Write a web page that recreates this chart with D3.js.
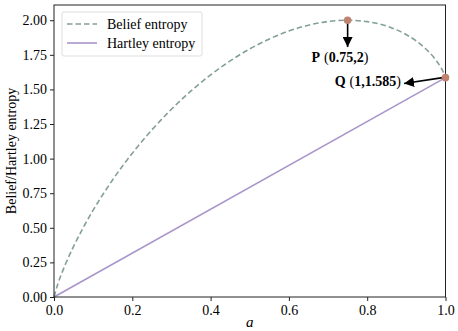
<!DOCTYPE html>
<html><head><meta charset="utf-8">
<script src="https://cdn.jsdelivr.net/npm/d3@7"></script>
<style>body{margin:0;background:#fff}svg{display:block}</style>
</head><body>
<svg id="c" width="458" height="331"></svg>
<script>
// Data
const aValues      = [0, 0.01, 0.02, 0.03, 0.05, 0.075, 0.1, 0.15, 0.2, 0.25, 0.3, 0.35, 0.4, 0.45, 0.5, 0.55, 0.6, 0.65, 0.7, 0.75, 0.8, 0.85, 0.9, 0.925, 0.95, 0.97, 0.98, 0.99, 1];
const beliefValues = [0, 0.0966, 0.1731, 0.2419, 0.3656, 0.5032, 0.6275, 0.8475, 1.0389, 1.2075, 1.3568, 1.4888, 1.6050, 1.7060, 1.7925, 1.8645, 1.9220, 1.9643, 1.9907, 2.0000, 1.9899, 1.9570, 1.8955, 1.8504, 1.7921, 1.7318, 1.6947, 1.6499, 1.5850];
const hartleyA      = [0, 1];
const hartleyValues = [0, 1.585];
const seriesNames = ["Belief entropy", "Hartley entropy"];
const xTicks = [0, 0.2, 0.4, 0.6, 0.8, 1.0];
const yTicks = [0, 0.25, 0.5, 0.75, 1.0, 1.25, 1.5, 1.75, 2.0];
const markedPoints = [{a: 0.75, v: 2}, {a: 1, v: 1.585}];
const annotations = [
  {head: "P", coords: "0.75,2", from: [0.75, 2], to: [0.75, 1.806], text: [0.7305, 1.698], anchor: "middle"},
  {head: "Q", coords: "1,1.585", from: [0.993, 1.585], to: [0.894, 1.543], text: [0.886, 1.525], anchor: "end"}
];

const svg = d3.select("#c");
const m = {l: 54, r: 445.5, t: 5, b: 297};
const x = d3.scaleLinear().domain([0, 1]).range([m.l, m.r]);
const y = d3.scaleLinear().domain([0, 2.11]).range([m.b, m.t]);
const font = "'Liberation Serif','Times New Roman',serif";
const cBelief = "#83a096", cHart = "#a996ca", cPt = "#c08270";

svg.append("defs").append("marker").attr("id", "ah")
  .attr("viewBox", "0 0 10 10").attr("refX", 10).attr("refY", 5)
  .attr("markerWidth", 10).attr("markerHeight", 10).attr("markerUnits", "userSpaceOnUse")
  .attr("orient", "auto")
  .append("path").attr("d", "M0,0 L10,5 L0,10 Z").attr("fill", "#000");

// lines
const line = d3.line().x(d => x(d[0])).y(d => y(d[1])).curve(d3.curveMonotoneX);
svg.append("path").datum(hartleyA.map((a, i) => [a, hartleyValues[i]]))
  .attr("d", d3.line().x(d => x(d[0])).y(d => y(d[1])))
  .attr("fill", "none").attr("stroke", cHart).attr("stroke-width", 1.6);
svg.append("path").datum(aValues.map((a, i) => [a, beliefValues[i]]))
  .attr("d", line).attr("fill", "none").attr("stroke", cBelief)
  .attr("stroke-width", 1.6).attr("stroke-dasharray", "5.5,3");

// axes
const gx = svg.append("g").attr("transform", `translate(0,${m.b})`)
  .call(d3.axisBottom(x).tickValues(xTicks).tickFormat(d3.format(".1f")).tickSize(4).tickPadding(4));
const gy = svg.append("g").attr("transform", `translate(${m.l},0)`)
  .call(d3.axisLeft(y).tickValues(yTicks).tickFormat(d3.format(".2f")).tickSize(4).tickPadding(3));
[gx, gy].forEach(g => {
  g.select(".domain").remove();
  g.selectAll("line").attr("stroke", "#222");
  g.selectAll("text").attr("font-family", font).attr("font-size", 14).attr("fill", "#000");
});
svg.append("rect").attr("x", m.l).attr("y", m.t).attr("width", m.r - m.l).attr("height", m.b - m.t)
  .attr("fill", "none").attr("stroke", "#222").attr("stroke-width", 1);

// annotations
annotations.forEach(an => {
  svg.append("line").attr("x1", x(an.from[0])).attr("y1", y(an.from[1]))
    .attr("x2", x(an.to[0])).attr("y2", y(an.to[1]))
    .attr("stroke", "#000").attr("stroke-width", 1.6).attr("marker-end", "url(#ah)");
  const t = svg.append("text").attr("x", x(an.text[0])).attr("y", y(an.text[1]))
    .attr("text-anchor", an.anchor).attr("font-family", "Liberation Serif")
    .attr("font-weight", "bold").attr("font-size", 14);
  t.append("tspan").text(an.head);
  t.append("tspan").attr("dx", 4).attr("font-weight", "normal").text("(");
  t.append("tspan").text(an.coords);
  t.append("tspan").attr("font-weight", "normal").text(")");
});

// points
svg.selectAll(".pt").data(markedPoints).join("circle")
  .attr("cx", d => x(d.a)).attr("cy", d => y(d.v)).attr("r", 3.8).attr("fill", cPt);

// legend
const lg = svg.append("g");
lg.append("rect").attr("x", 62).attr("y", 12).attr("width", 140).attr("height", 44).attr("rx", 2)
  .attr("fill", "#fff").attr("fill-opacity", 0.8).attr("stroke", "#ddd");
const lgItems = [{name: seriesNames[0], c: cBelief, dash: "5.5,3"}, {name: seriesNames[1], c: cHart, dash: null}];
lgItems.forEach((d, i) => {
  const yy = 24 + i * 19;
  lg.append("line").attr("x1", 67).attr("x2", 97).attr("y1", yy).attr("y2", yy)
    .attr("stroke", d.c).attr("stroke-width", 1.6).attr("stroke-dasharray", d.dash);
  lg.append("text").attr("x", 107).attr("y", yy + 5).attr("font-family", font).attr("font-size", 14).text(d.name);
});

// axis labels
svg.append("text").attr("transform", `translate(16,${(m.t + m.b) / 2}) rotate(-90)`)
  .attr("text-anchor", "middle").attr("font-family", font).attr("font-size", 14).text("Belief/Hartley entropy");
svg.append("text").attr("x", (m.l + m.r) / 2).attr("y", 327).attr("text-anchor", "middle")
  .attr("font-family", font).attr("font-style", "italic").attr("font-size", 15).text("a");
</script>
</body></html>
